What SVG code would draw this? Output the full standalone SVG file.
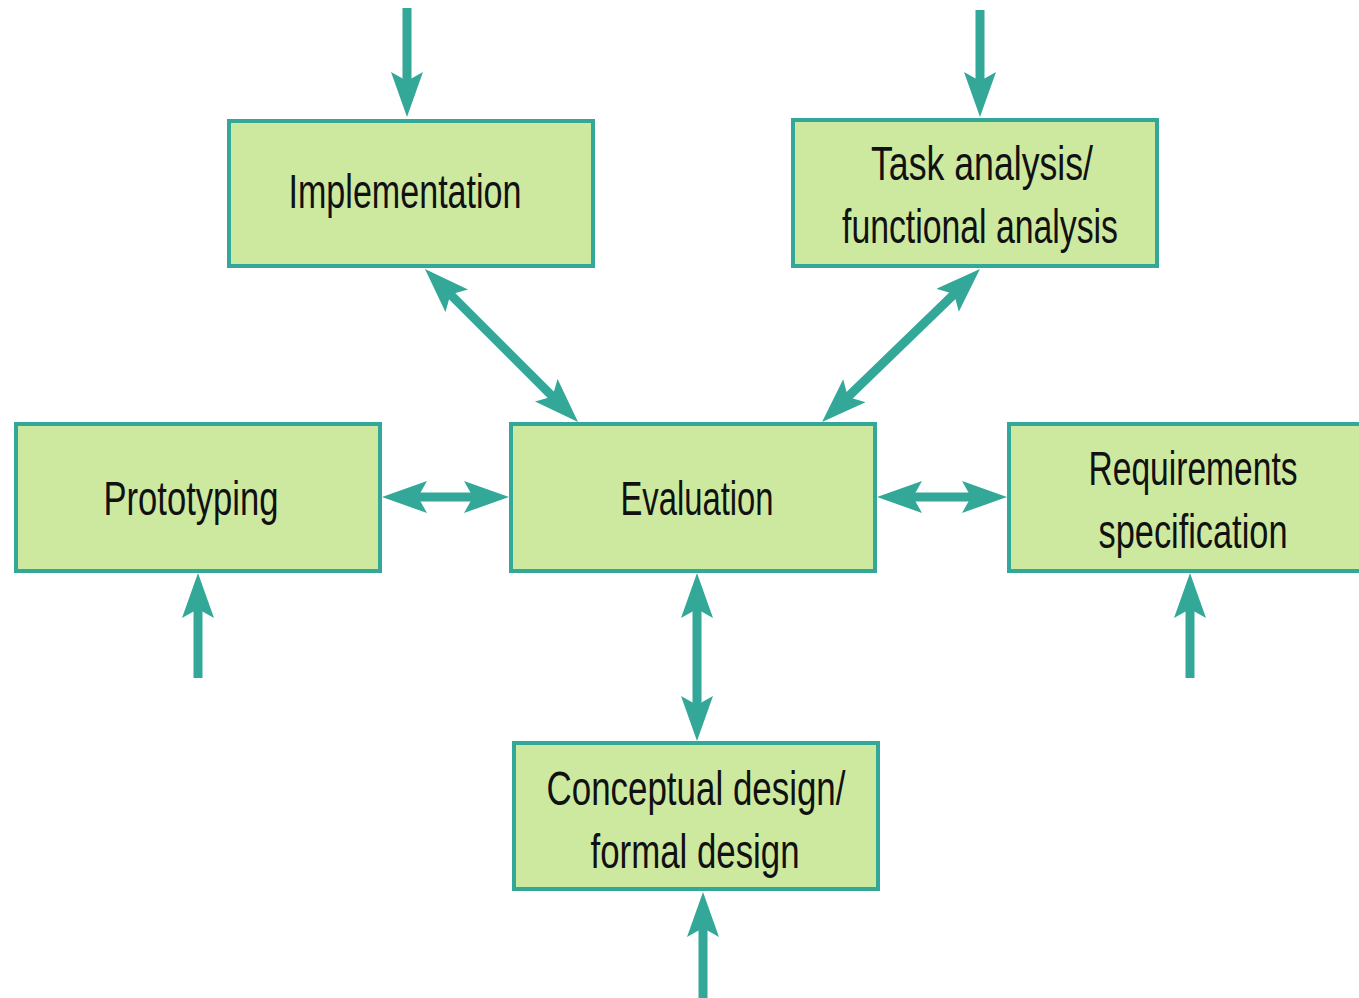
<svg xmlns="http://www.w3.org/2000/svg" width="1359" height="998" viewBox="0 0 1359 998">
<style>
.box{fill:#cde9a0;stroke:#33a898;stroke-width:4}
.lbl{font-family:"Liberation Sans",Arial,sans-serif;font-size:48px;fill:#111;text-anchor:middle}
.cn{stroke:#33a898;stroke-width:9;fill:none}
</style>
<defs>
<marker id="ah" viewBox="0 0 45 32" markerUnits="userSpaceOnUse" markerWidth="45" markerHeight="32" refX="25" refY="16" orient="auto-start-reverse">
<path d="M0,0 L45,16 L0,32 L9,16 Z" fill="#33a898"/>
</marker>
</defs>
<rect width="1359" height="998" fill="#fff"/>
<g id="connectors">
<line class="cn" x1="407" y1="8" x2="407" y2="97" marker-end="url(#ah)"/>
<line class="cn" x1="980" y1="10" x2="980" y2="97" marker-end="url(#ah)"/>
<line class="cn" x1="439.1" y1="283.1" x2="563.9" y2="407.9" marker-start="url(#ah)" marker-end="url(#ah)"/>
<line class="cn" x1="965.6" y1="282.9" x2="836.4" y2="408.1" marker-start="url(#ah)" marker-end="url(#ah)"/>
<line class="cn" x1="402" y1="497" x2="489" y2="497" marker-start="url(#ah)" marker-end="url(#ah)"/>
<line class="cn" x1="897" y1="497" x2="987" y2="497" marker-start="url(#ah)" marker-end="url(#ah)"/>
<line class="cn" x1="697" y1="593" x2="697" y2="721" marker-start="url(#ah)" marker-end="url(#ah)"/>
<line class="cn" x1="198" y1="678" x2="198" y2="593" marker-end="url(#ah)"/>
<line class="cn" x1="1190" y1="678" x2="1190" y2="593" marker-end="url(#ah)"/>
<line class="cn" x1="703" y1="998" x2="703" y2="912" marker-end="url(#ah)"/>
</g>
<g id="implementation">
<rect class="box" x="229" y="121" width="364" height="145"/>
<text class="lbl" x="405" y="208" textLength="233" lengthAdjust="spacingAndGlyphs">Implementation</text>
</g>
<g id="task-analysis">
<rect class="box" x="793" y="120" width="364" height="146"/>
<text class="lbl" x="982" y="180" textLength="222" lengthAdjust="spacingAndGlyphs">Task analysis/</text>
<text class="lbl" x="980" y="243" textLength="276" lengthAdjust="spacingAndGlyphs">functional analysis</text>
</g>
<g id="prototyping">
<rect class="box" x="16" y="424" width="364" height="147"/>
<text class="lbl" x="191" y="515" textLength="175" lengthAdjust="spacingAndGlyphs">Prototyping</text>
</g>
<g id="evaluation">
<rect class="box" x="511" y="424" width="364" height="147"/>
<text class="lbl" x="697" y="515" textLength="153" lengthAdjust="spacingAndGlyphs">Evaluation</text>
</g>
<g id="requirements">
<rect x="1009" y="424" width="350" height="147" fill="#cde9a0"/>
<path d="M1359,424 H1009 V571 H1359" fill="none" stroke="#33a898" stroke-width="4"/>
<text class="lbl" x="1193" y="485" textLength="209" lengthAdjust="spacingAndGlyphs">Requirements</text>
<text class="lbl" x="1193" y="548" textLength="189" lengthAdjust="spacingAndGlyphs">specification</text>
</g>
<g id="conceptual-design">
<rect class="box" x="514" y="743" width="364" height="146"/>
<text class="lbl" x="696" y="805" textLength="299" lengthAdjust="spacingAndGlyphs">Conceptual design/</text>
<text class="lbl" x="695" y="868" textLength="209" lengthAdjust="spacingAndGlyphs">formal design</text>
</g>
</svg>
